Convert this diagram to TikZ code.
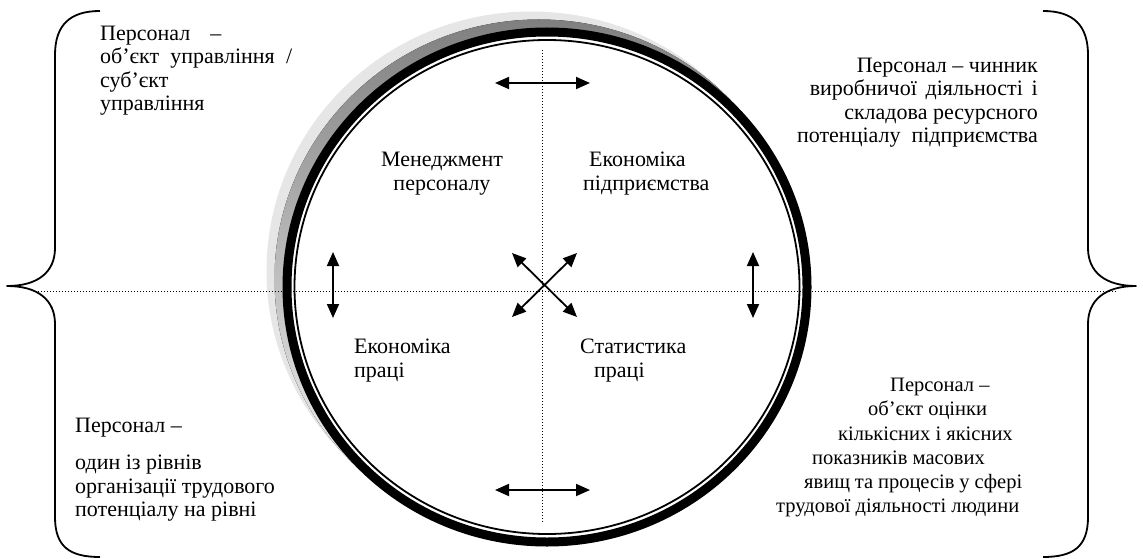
\documentclass[tikz,border=0pt]{standalone}
\usepackage{fontspec}
\setmainfont{Liberation Serif}
\usepackage{tikz}
\usetikzlibrary{arrows.meta}
\definecolor{shade}{RGB}{128,128,128}
\definecolor{haze}{RGB}{230,230,230}
\newcommand{\spread}[2]{\makebox[#1pt][s]{#2}}

\begin{document}
\begin{tikzpicture}[x=1pt, y=-1pt,
  note/.style={font=\fontsize{22}{23.5}\selectfont, inner sep=0pt},
  quad/.style={font=\fontsize{22}{24}\selectfont, inner sep=0pt},
  twoway/.style={{Triangle[length=14pt,width=12pt]}-{Triangle[length=14pt,width=12pt]}, line width=1.8pt},
  guide/.style={line width=0.9pt, dash pattern=on 0.9pt off 2.1pt},
  brace/.style={line width=1.8pt, line join=round},
]
  \useasboundingbox (0,0) rectangle (1143,559);

  % Circle with shadow
  \fill[haze] (531,271) ellipse [x radius=264.5pt, y radius=259.5pt];
  \fill[shade] (539,279) ellipse [x radius=264.5pt, y radius=259.5pt];
  \draw[line width=9pt, fill=white] (547,287) ellipse [x radius=260pt, y radius=255pt];
  \draw[line width=1.8pt] (547,287) ellipse [x radius=252.5pt, y radius=247pt];

  % Dotted axes
  \draw[guide] (35,291) -- (1117,291);
  \draw[guide] (542,50) -- (542,522);

  % Braces
  \draw[brace] (100,11) .. controls (70,11) and (55,25) .. (55,55) -- (55,248)
    .. controls (55,272) and (38,286) .. (7,286)
    .. controls (38,286) and (55,300) .. (55,324) -- (55,517)
    .. controls (55,547) and (70,557) .. (100,557);
  \draw[brace] (1043,11) .. controls (1073,11) and (1088,25) .. (1088,55) -- (1088,248)
    .. controls (1088,272) and (1105,286) .. (1136,286)
    .. controls (1105,286) and (1088,300) .. (1088,324) -- (1088,517)
    .. controls (1088,547) and (1073,557) .. (1043,557);

  % Arrow ends
  \coordinate (topL) at (495,83);   \coordinate (topR) at (590,83);
  \coordinate (botL) at (495,490);  \coordinate (botR) at (590,490);
  \coordinate (lftT) at (333,252);  \coordinate (lftB) at (333,318);
  \coordinate (rgtT) at (753,252);  \coordinate (rgtB) at (753,318);
  \coordinate (xNW) at (512,253);   \coordinate (xSE) at (577,317);
  \coordinate (xNE) at (577,253);   \coordinate (xSW) at (512,317);

  \draw[twoway] (topL) -- (topR);
  \draw[twoway] (botL) -- (botR);
  \draw[twoway] (lftT) -- (lftB);
  \draw[twoway] (rgtT) -- (rgtB);
  \draw[twoway] (xNW) -- (xSE);
  \draw[twoway] (xNE) -- (xSW);

  % Quadrant labels
  \node[quad, anchor=north, align=center] (mgmt) at (442,151.5) {Менеджмент\\персоналу};
  \node[quad, anchor=north west, align=left] (econent) at (583,151.5) {\hspace*{6pt}Економіка\\підприємства};
  \node[quad, anchor=north west, align=left] (econlab) at (354,338.5) {Економіка\\праці};
  \node[quad, anchor=north west, align=left] (stat) at (580,338.5) {Статистика\\\hspace*{14pt}праці};

  % Notes at the braces
  \node[note, anchor=north west, align=left] (tl) at (100,25.4)
    {Персонал\hspace{20pt}–\\\spread{192}{об’єкт управління /}\\суб’єкт\\управління};
  \node[note, anchor=north east, align=right] (tr) at (1038,57.4)
    {Персонал – чинник\\\spread{228}{виробничої діяльності і}\\складова ресурсного\\потенціалу\ \ підприємства};
  \node[note, anchor=north west, align=left] (bl) at (75,417.4)
    {Персонал –\\[14pt]один із рівнів\\організації трудового\\потенціалу на рівні};
  \node[note, font=\fontsize{20.5}{24.2}\selectfont, anchor=north west, align=left] (br) at (776,378)
    {\hspace*{114pt}Персонал –\\
     \hspace*{92pt}об’єкт оцінки\\
     \hspace*{62pt}кількісних і якісних\\
     \hspace*{36pt}показників масових\\
     \hspace*{28pt}\spread{218}{явищ та процесів у сфері}\\
     трудової діяльності людини};
\end{tikzpicture}
\end{document}
